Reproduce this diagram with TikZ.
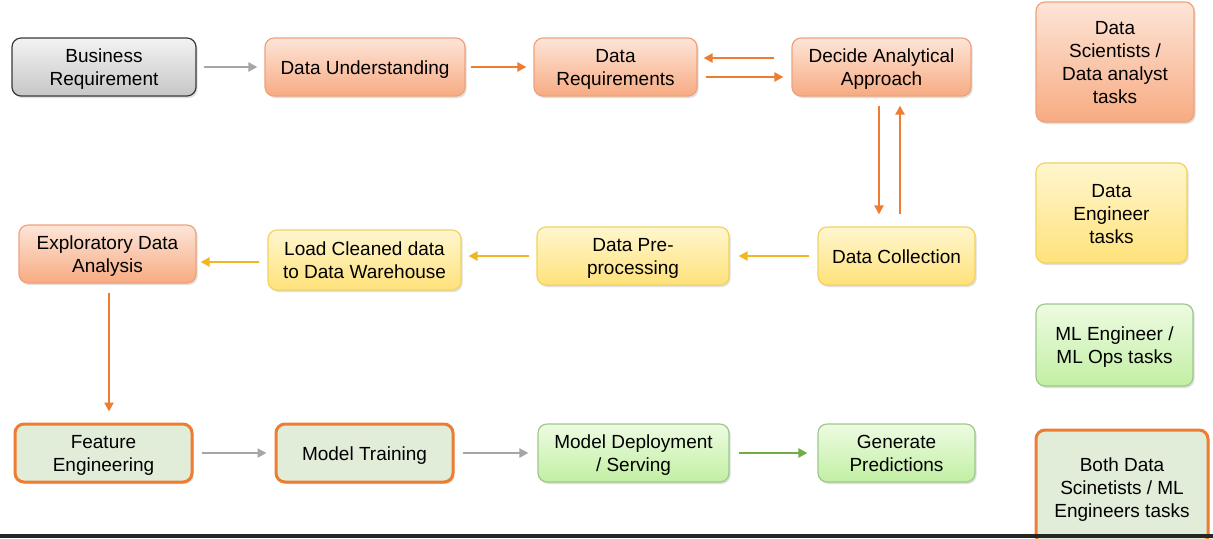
\documentclass[tikz,border=0pt]{standalone}
\usepackage{fontspec}
\setmainfont{Liberation Sans}
\usetikzlibrary{arrows.meta,shadows}
\definecolor{orA}{HTML}{FDE5D8}
\definecolor{orB}{HTML}{F7AB82}
\definecolor{orD}{HTML}{EFA27A}
\definecolor{yeA}{HTML}{FFF6CF}
\definecolor{yeB}{HTML}{FFE27A}
\definecolor{yeD}{HTML}{F3D25E}
\definecolor{grA}{HTML}{EDFBE2}
\definecolor{grB}{HTML}{C2EFA3}
\definecolor{grD}{HTML}{9CC98A}
\definecolor{gyA}{HTML}{F3F3F3}
\definecolor{gyB}{HTML}{C6C6C6}
\definecolor{gyD}{HTML}{3A3A3A}
\definecolor{mixF}{HTML}{E2EDD9}
\definecolor{orL}{HTML}{ED7D31}
\definecolor{gyL}{HTML}{A6A6A6}
\definecolor{yeL}{HTML}{F2B620}
\definecolor{grL}{HTML}{70AD47}
\definecolor{barC}{HTML}{262626}
\newcommand{\bxtext}[1]{\raisebox{-1.4pt}[\height][\depth]{\begin{tabular}{@{}c@{}}#1\end{tabular}}}
\tikzset{
  base/.style={rounded corners=4.5pt, inner sep=1pt,
    font=\fontsize{9.5pt}{11.5pt}\selectfont, text=black,
    drop shadow={shadow xshift=0.8pt, shadow yshift=-1pt, opacity=0.25}},
  obox/.style={base, draw=orD, line width=0.6pt, top color=orA, bottom color=orB},
  ybox/.style={base, draw=yeD, line width=0.6pt, top color=yeA, bottom color=yeB},
  gbox/.style={base, draw=grD, line width=0.6pt, top color=grA, bottom color=grB},
  kbox/.style={base, draw=gyD, line width=0.6pt, top color=gyA, bottom color=gyB},
  mbox/.style={base, draw=orL, line width=1.5pt, fill=mixF},
  arr/.style={line width=1.3pt, -{Triangle[length=4.5pt,width=4.5pt]}},
  oarr/.style={arr, draw=orL, fill=orL},
  garr/.style={arr, draw=gyL, fill=gyL},
  yarr/.style={arr, draw=yeL, fill=yeL},
  grarr/.style={arr, draw=grL, fill=grL},
}
\begin{document}
\begin{tikzpicture}[x=0.5pt, y=-0.5pt]
\fill[white] (0,0) rectangle (1213,538);
\useasboundingbox (0,0) rectangle (1213,538);
% row 1
\node[kbox, minimum width=92pt, minimum height=29pt] (br) at (104,67) {\bxtext{Business\\Requirement}};
\node[obox, minimum width=100pt, minimum height=29pt] (du) at (365,67) {\bxtext{Data Understanding}};
\node[obox, minimum width=81.5pt, minimum height=29pt] (dr) at (615.5,67) {\bxtext{Data\\Requirements}};
\node[obox, minimum width=89.5pt, minimum height=29pt] (daa) at (881.5,67) {\bxtext{Decide Analytical\\Approach}};
% row 2
\node[ybox, minimum width=78.5pt, minimum height=29pt] (dc) at (896.5,256) {\bxtext{Data Collection}};
\node[ybox, minimum width=96pt, minimum height=29pt] (dpp) at (633,256) {\bxtext{Data Pre-\\processing}};
\node[ybox, minimum width=96.5pt, minimum height=30pt] (ld) at (364.5,260) {\bxtext{Load Cleaned data\\to Data Warehouse}};
\node[obox, minimum width=88.5pt, minimum height=29pt] (eda) at (107.5,254) {\bxtext{Exploratory Data\\Analysis}};
% row 3
\node[mbox, minimum width=88.5pt, minimum height=29pt] (fe) at (103.5,453) {\bxtext{Feature\\Engineering}};
\node[mbox, minimum width=88.5pt, minimum height=29pt] (mt) at (364.5,453) {\bxtext{Model Training}};
\node[gbox, minimum width=95.5pt, minimum height=29pt] (md) at (633.5,453) {\bxtext{Model Deployment\\/ Serving}};
\node[gbox, minimum width=78.5pt, minimum height=29pt] (gp) at (896.5,453) {\bxtext{Generate\\Predictions}};
% legend
\node[obox, minimum width=79pt, minimum height=60pt] (l1) at (1115,62) {\bxtext{Data\\Scientists /\\Data analyst\\tasks}};
\node[ybox, minimum width=75.5pt, minimum height=50pt] (l2) at (1111.5,213) {\bxtext{Data\\Engineer\\tasks}};
\node[gbox, minimum width=78.5pt, minimum height=41pt] (l3) at (1114.5,345) {\bxtext{ML Engineer /\\ML Ops tasks}};
\node[mbox, minimum width=86pt, minimum height=57pt] (l4) at (1122,487) {\bxtext{Both Data\\Scinetists / ML\\Engineers tasks}};
% connectors
\draw[garr, shorten <=3.5pt, shorten >=3.5pt] (br) -- (du);
\draw[oarr, shorten <=2.5pt, shorten >=3.5pt] (du) -- (dr);
\draw[oarr, shorten <=8.5pt, shorten >=3pt] ([yshift=4.5pt]daa.west) -- ([yshift=4.5pt]dr.east);
\draw[oarr, shorten <=4pt, shorten >=4pt] ([yshift=-5pt]dr.east) -- ([yshift=-5pt]daa.west);
\draw[oarr, shorten <=4.5pt, shorten >=6pt] ([xshift=-1.25pt]daa.south) -- ([xshift=-1.25pt]daa.south |- dc.north);
\draw[oarr, shorten <=6pt, shorten >=4.5pt] ([xshift=9.25pt]daa.south |- dc.north) -- ([xshift=9.25pt]daa.south);
\draw[yarr, shorten <=4pt, shorten >=4.5pt] (dc) -- (dpp);
\draw[yarr, shorten <=3.5pt, shorten >=3.5pt] (dpp.west) -- (dpp.west -| ld.east);
\draw[yarr, shorten <=4pt, shorten >=2pt] ([yshift=-1pt]ld.west) -- ([yshift=-1pt]ld.west -| eda.east);
\draw[oarr, shorten <=4.5pt, shorten >=5.5pt] ([xshift=0.75pt]eda.south) -- ([xshift=0.75pt]eda.south |- fe.north);
\draw[garr, shorten <=4pt, shorten >=4pt] (fe) -- (mt);
\draw[garr, shorten <=4pt, shorten >=4.5pt] (mt) -- (md);
\draw[grarr, shorten <=4.5pt, shorten >=5pt] (md) -- (gp);
% bottom bar
\fill[barC] (0,534) rectangle (1213,538);
\end{tikzpicture}
\end{document}
